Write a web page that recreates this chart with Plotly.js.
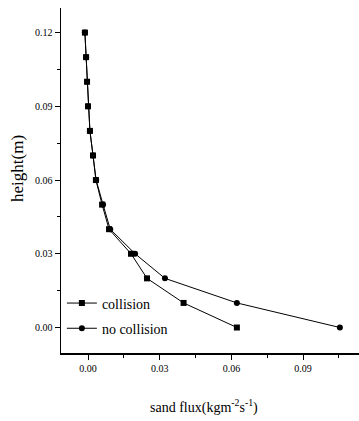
<!DOCTYPE html>
<html>
<head>
<meta charset="utf-8">
<script src="https://cdn.plot.ly/plotly-3.0.1.min.js"></script>
<style>html,body{margin:0;padding:0;background:#fff;}#chart{width:359px;height:421px;}</style>
</head>
<body>
<div id="chart"></div>
<script>
var heights = [0.12, 0.11, 0.10, 0.09, 0.08, 0.07, 0.06, 0.05, 0.04, 0.03, 0.02, 0.01, 0.00];
var fluxCollision = [-0.0013, -0.0008, -0.0004, 0.0000, 0.0008, 0.0021, 0.0033, 0.0059, 0.0088, 0.0180, 0.0247, 0.0400, 0.0623];
var fluxNoCollision = [-0.0013, -0.0008, -0.0004, 0.0000, 0.0008, 0.0021, 0.0034, 0.0063, 0.0093, 0.0197, 0.0322, 0.0623, 0.1054];
var seriesNames = ['collision', 'no collision'];
var xTicks = [0.00, 0.03, 0.06, 0.09];
var xTickLabels = ['0.00', '0.03', '0.06', '0.09'];
var yTicks = [0.00, 0.03, 0.06, 0.09, 0.12];
var yTickLabels = ['0.00', '0.03', '0.06', '0.09', '0.12'];
var xTitle = 'sand flux(kgm<sup>-2</sup>s<sup>-1</sup>)';
var yTitle = 'height(m)';

var traces = [
  {x: fluxCollision, y: heights, name: seriesNames[0], legendgroup: 'a', type: 'scatter', mode: 'lines+markers',
   line: {color: '#000', width: 1}, marker: {symbol: 'square', size: 6, color: '#000'}},
  {x: fluxNoCollision, y: heights, name: seriesNames[1], legendgroup: 'b', type: 'scatter', mode: 'lines+markers',
   line: {color: '#000', width: 1}, marker: {symbol: 'circle', size: 6, color: '#000'}}
];

var fam = 'Liberation Serif, Times New Roman, serif';
var layout = {
  width: 359, height: 421,
  margin: {l: 61, r: 0, t: 8, b: 68},
  paper_bgcolor: '#fff', plot_bgcolor: '#fff',
  showlegend: true,
  font: {family: fam, size: 11, color: '#000'},
  xaxis: {
    range: [-0.0113, 0.1134], tickvals: xTicks, ticktext: xTickLabels,
    showgrid: false, zeroline: false, showline: true, linecolor: '#000', linewidth: 1.5,
    ticks: 'outside', ticklen: 5, tickcolor: '#000', tickwidth: 1,
    minor: {dtick: 0.015, tick0: 0, ticks: 'outside', ticklen: 3, tickcolor: '#000', showgrid: false},
    tickfont: {family: fam, size: 10, color: '#000'}
  },
  yaxis: {
    range: [-0.01037, 0.13], tickvals: yTicks, ticktext: yTickLabels,
    showgrid: false, zeroline: false, showline: true, linecolor: '#000', linewidth: 1.5,
    ticks: 'outside', ticklen: 5, tickcolor: '#000', tickwidth: 1,
    minor: {dtick: 0.015, tick0: 0, ticks: 'outside', ticklen: 3, tickcolor: '#000', showgrid: false},
    tickfont: {family: fam, size: 10, color: '#000'}
  },
  legend: {x: 0.003, y: 0.19, xanchor: 'left', yanchor: 'top', bgcolor: 'rgba(0,0,0,0)',
           font: {family: fam, size: 14, color: '#000'}, itemwidth: 30,
           traceorder: 'grouped', tracegroupgap: 4},
  annotations: [
    {xref: 'paper', yref: 'paper', x: (204 - 61) / 298, y: (353 - 406) / 345, xanchor: 'center', yanchor: 'middle',
     showarrow: false, text: xTitle, font: {family: fam, size: 14, color: '#000'}},
    {xref: 'paper', yref: 'paper', x: (17 - 61) / 298, y: (353 - 169) / 345, xanchor: 'center', yanchor: 'middle',
     showarrow: false, textangle: -90, text: yTitle, font: {family: fam, size: 17, color: '#000'}}
  ]
};
Plotly.newPlot('chart', traces, layout, {displayModeBar: false, staticPlot: true});
</script>
</body>
</html>
